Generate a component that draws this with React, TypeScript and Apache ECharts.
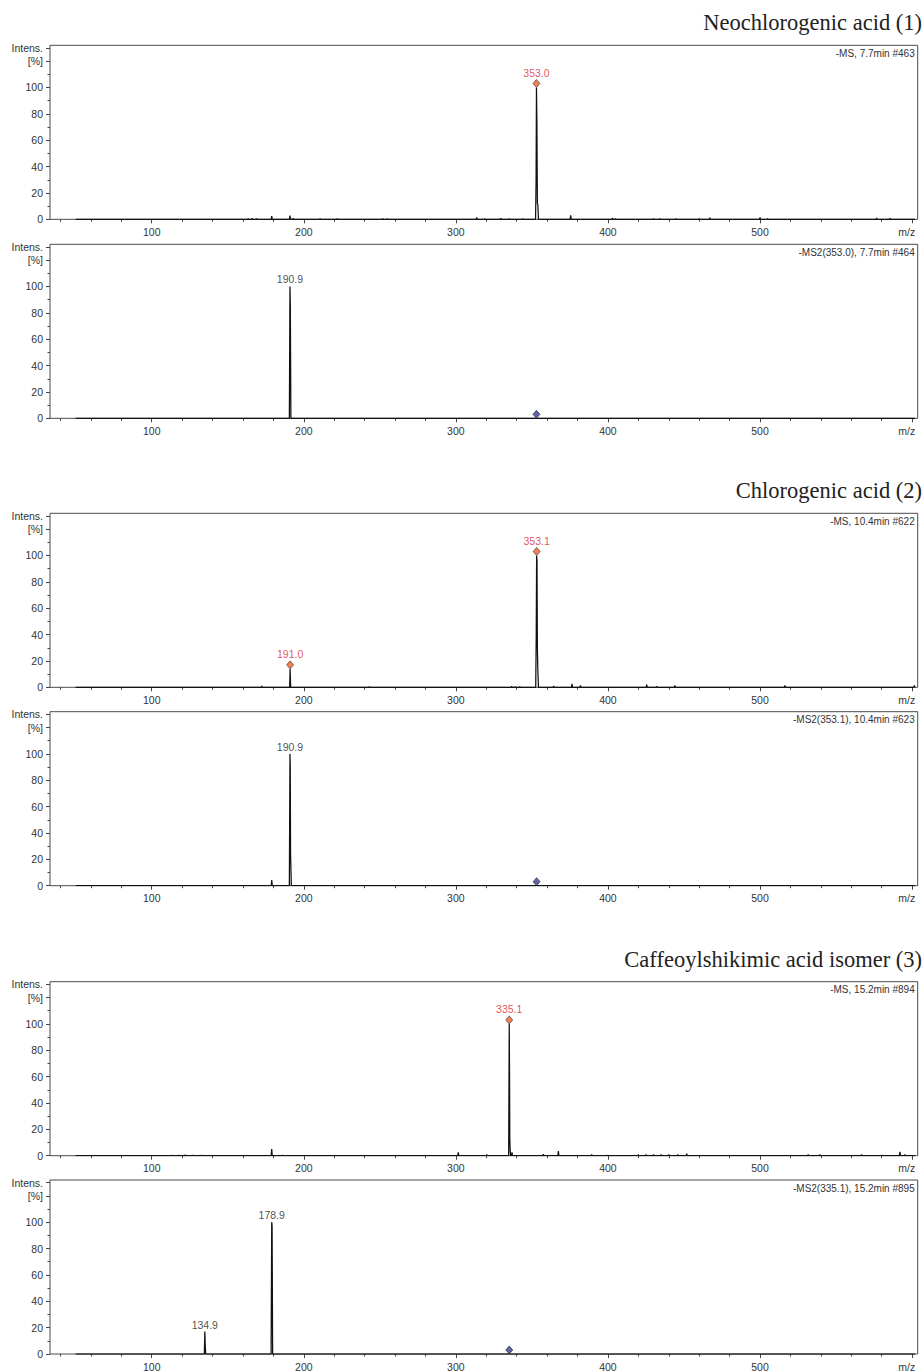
import React, { useEffect, useRef } from 'react';
import * as echarts from 'echarts';

// ---------- data ----------
const titles = ['Neochlorogenic acid (1)', 'Chlorogenic acid (2)', 'Caffeoylshikimic acid isomer (3)'];
const scanInfo = [
  '-MS, 7.7min #463',
  '-MS2(353.0), 7.7min #464',
  '-MS, 10.4min #622',
  '-MS2(353.1), 10.4min #623',
  '-MS, 15.2min #894',
  '-MS2(335.1), 15.2min #895',
];

const xMajorTicks = [100, 200, 300, 400, 500, 600];
const xLabelValues = [100, 200, 300, 400, 500];
const xMinorTicks = [40, 60, 80, 120, 140, 160, 180, 220, 240, 260, 280, 320, 340, 360, 380, 420, 440, 460, 480, 520, 540, 560, 580];
const yMajorTicks = [0, 20, 40, 60, 80, 100, 120, 130];
const yMinorTicks = [10, 30, 50, 70, 90, 110];
const mzStart = 50;
const mzEnd = 602;

// profile points [m/z, %]
const p1Profile = [[352.4, 0], [352.75, 30], [353.0, 100], [353.3, 72], [353.6, 12], [353.9, 11], [354.3, 0]];
const p1Noise = [[163.5, 0.6], [166, 0.8], [169, 0.6], [178.9, 2.5], [190.9, 2.8], [193, 0.8], [210.7, 0.6], [222, 0.4], [252, 0.6], [255, 0.5], [313.7, 1.5], [319, 0.6], [329.5, 0.8], [335, 0.5], [344, 0.5], [375.5, 3], [403, 1.1], [405, 0.6], [430, 0.6], [434, 0.6], [445, 0.5], [460, 0.6], [467, 1.2], [500, 1.5], [505, 0.6], [576.7, 1.1], [585.5, 0.8]];
const p1Marks = [[353.0, 100]];

const p2Profile = [[190.5, 0], [190.9, 100], [191.15, 85], [191.5, 0]];
const p2Noise: number[][] = [];
const p2Labels = [[190.9, 100]];
const p2Precursor = [[353.0, 0]];

const p3Profile = [[190.7, 0], [191.0, 14], [191.35, 0], [352.5, 0], [352.85, 40], [353.1, 100], [353.35, 96], [353.6, 30], [353.85, 15], [354.3, 0]];
const p3Noise = [[172.3, 1], [243, 0.5], [336.7, 0.8], [339, 0.6], [342, 0.6], [364.3, 1], [376.4, 2.6], [381.9, 1.5], [425.5, 2], [432, 0.8], [444, 1.5], [516.4, 1.5], [601.5, 1.5]];
const p3Marks = [[191.0, 14], [353.1, 100]];

const p4Profile = [[178.6, 0], [178.9, 4.3], [179.3, 0], [190.5, 0], [190.9, 100], [191.1, 90], [191.3, 24], [191.6, 24], [191.8, 0]];
const p4Noise: number[][] = [];
const p4Labels = [[190.9, 100]];
const p4Precursor = [[353.1, 0]];

const p5Profile = [[334.7, 0], [335.1, 100], [335.3, 62], [335.45, 14], [335.7, 4], [336.0, 0]];
const p5Noise = [[113, 0.5], [118, 0.5], [122, 0.6], [127, 0.5], [133, 0.5], [178.9, 5], [186, 0.5], [301.6, 2.5], [320.3, 1], [336.9, 2.5], [357.5, 1.2], [367.4, 3.5], [389.3, 0.8], [400, 0.5], [420, 0.8], [425, 0.8], [430, 1], [435, 0.8], [440, 1], [446, 1], [451.8, 1.5], [531.7, 0.8], [539.4, 0.8], [566.8, 0.8], [580, 0.5], [592, 3], [595.3, 1]];
const p5Marks = [[335.1, 100]];

const p6Profile = [[134.6, 0], [134.9, 17], [135.2, 6], [135.5, 0], [178.5, 0], [178.9, 100], [179.15, 97], [179.5, 0]];
const p6Noise: number[][] = [];
const p6Labels = [[134.9, 17], [178.9, 100]];
const p6Precursor = [[335.1, 0]];

const panels = [
  { profile: p1Profile, noise: p1Noise, marks: p1Marks, labels: [], precursor: [] },
  { profile: p2Profile, noise: p2Noise, marks: [], labels: p2Labels, precursor: p2Precursor },
  { profile: p3Profile, noise: p3Noise, marks: p3Marks, labels: [], precursor: [] },
  { profile: p4Profile, noise: p4Noise, marks: [], labels: p4Labels, precursor: p4Precursor },
  { profile: p5Profile, noise: p5Noise, marks: p5Marks, labels: [], precursor: [] },
  { profile: p6Profile, noise: p6Noise, marks: [], labels: p6Labels, precursor: p6Precursor },
];

// ---------- layout ----------
const GRID_TOPS = [45.3, 244.3, 513.3, 711.7, 981.7, 1180];
const GRID_H = 174;
const GRID_LEFT = 50;
const GRID_W = 867.7;
const X_MIN = 33.1;
const X_MAX = 603.7;
const Y_MAX = 132;
const SANS = '"Liberation Sans", Arial, sans-serif';
const SERIF = '"Liberation Serif", "Times New Roman", serif';

function buildLine(profile: number[][], noise: number[][]) {
  const pts: number[][] = [[mzStart, 0], [mzEnd, 0]];
  profile.forEach((p) => pts.push([p[0], p[1]]));
  noise.forEach(([mz, h]) => {
    pts.push([mz - 0.35, 0], [mz, h], [mz + 0.35, 0]);
  });
  pts.sort((a, b) => a[0] - b[0]);
  return pts;
}

function buildOption() {
  const grid: any[] = [];
  const xAxis: any[] = [];
  const yAxis: any[] = [];
  const series: any[] = [];
  const graphic: any[] = [];
  const tickStyle = { color: '#444', width: 1 };

  GRID_TOPS.forEach((top, i) => {
    grid.push({
      left: GRID_LEFT, top, width: GRID_W, height: GRID_H,
      show: true, borderColor: '#4a4a4a', borderWidth: 1, backgroundColor: 'transparent',
      containLabel: false, outerBoundsMode: 'none',
    });
    const xBase = {
      type: 'value', gridIndex: i, min: X_MIN, max: X_MAX, position: 'bottom',
      axisLine: { show: false }, splitLine: { show: false },
    };
    xAxis.push({
      ...xBase,
      axisTick: { show: true, inside: false, length: 4, customValues: xMajorTicks, lineStyle: tickStyle },
      axisLabel: { show: true, customValues: xLabelValues, fontSize: 10.5, color: '#333', margin: 7, fontFamily: SANS },
    });
    xAxis.push({
      ...xBase,
      axisTick: { show: true, inside: false, length: 2.5, customValues: xMinorTicks, lineStyle: tickStyle },
      axisLabel: { show: false },
    });
    const yBase = {
      type: 'value', gridIndex: i, min: 0, max: Y_MAX, position: 'left',
      axisLine: { show: false }, splitLine: { show: false },
    };
    yAxis.push({
      ...yBase,
      axisTick: { show: true, inside: false, length: 4, customValues: yMajorTicks, lineStyle: tickStyle },
      axisLabel: {
        show: true, customValues: yMajorTicks, fontSize: 10.5, color: '#333', margin: 7, fontFamily: SANS,
        formatter: (v: number) => (v === 130 ? 'Intens.' : v === 120 ? '[%]' : String(v)),
      },
    });
    yAxis.push({
      ...yBase,
      axisTick: { show: true, inside: false, length: 2.5, customValues: yMinorTicks, lineStyle: tickStyle },
      axisLabel: { show: false },
    });

    const pnl = panels[i];
    series.push({
      type: 'line', xAxisIndex: 2 * i, yAxisIndex: 2 * i,
      data: buildLine(pnl.profile, pnl.noise),
      showSymbol: false, symbol: 'none', silent: true, z: 3,
      lineStyle: { color: '#111', width: 1.25 },
      emphasis: { disabled: true },
    });
    if (pnl.marks.length) {
      series.push({
        type: 'scatter', xAxisIndex: 2 * i, yAxisIndex: 2 * i, data: pnl.marks,
        symbol: 'diamond', symbolSize: [7, 8], symbolOffset: [0, -4], silent: true, z: 6,
        itemStyle: { color: '#f0602a', borderColor: '#333', borderWidth: 0.8 },
        label: {
          show: true, position: 'top', distance: 1, color: '#d62a30', fontSize: 10.5, fontFamily: SANS,
          formatter: (p: any) => p.value[0].toFixed(1),
        },
        emphasis: { disabled: true },
      });
    }
    if (pnl.labels.length) {
      series.push({
        type: 'scatter', xAxisIndex: 2 * i, yAxisIndex: 2 * i, data: pnl.labels,
        symbol: 'circle', symbolSize: 1, silent: true, z: 6,
        itemStyle: { color: 'rgba(0,0,0,0)' },
        label: {
          show: true, position: 'top', distance: 1, color: '#222', fontSize: 10.5, fontFamily: SANS,
          formatter: (p: any) => p.value[0].toFixed(1),
        },
        emphasis: { disabled: true },
      });
    }
    if (pnl.precursor.length) {
      series.push({
        type: 'scatter', xAxisIndex: 2 * i, yAxisIndex: 2 * i, data: pnl.precursor,
        symbol: 'diamond', symbolSize: [7, 8], symbolOffset: [0, -4], silent: true, z: 6,
        itemStyle: { color: '#3b3b96', borderColor: '#222', borderWidth: 0.8 },
        emphasis: { disabled: true },
      });
    }

    // scan info text (top-right inside the box)
    graphic.push({
      type: 'text', x: GRID_LEFT + GRID_W - 3, y: top + 8,
      style: { text: scanInfo[i], fill: '#333', font: `10px ${SANS}`, textAlign: 'right', textVerticalAlign: 'middle' },
      silent: true,
    });
    // m/z unit label
    graphic.push({
      type: 'text', x: 906.7, y: top + GRID_H + 12.5,
      style: { text: 'm/z', fill: '#333', font: `10.5px ${SANS}`, textAlign: 'center', textVerticalAlign: 'middle' },
      silent: true,
    });
    // compound title above each MS panel
    if (i % 2 === 0) {
      graphic.push({
        type: 'text', x: 922, y: top - 22.5,
        style: { text: titles[i / 2], fill: '#222', font: `22.5px ${SERIF}`, textAlign: 'right', textVerticalAlign: 'middle' },
        silent: true,
      });
    }
  });

  return {
    animation: false,
    backgroundColor: '#fff',
    grid, xAxis, yAxis, series, graphic,
  };
}

export default function App() {
  const ref = useRef<HTMLDivElement>(null);
  useEffect(() => {
    if (!ref.current) return;
    const chart = echarts.init(ref.current, null, { renderer: 'svg' });
    chart.setOption(buildOption() as any);
    return () => chart.dispose();
  }, []);
  return <div ref={ref} style={{ position: 'absolute', left: 0, top: 0, width: 924, height: 1371 }} />;
}
